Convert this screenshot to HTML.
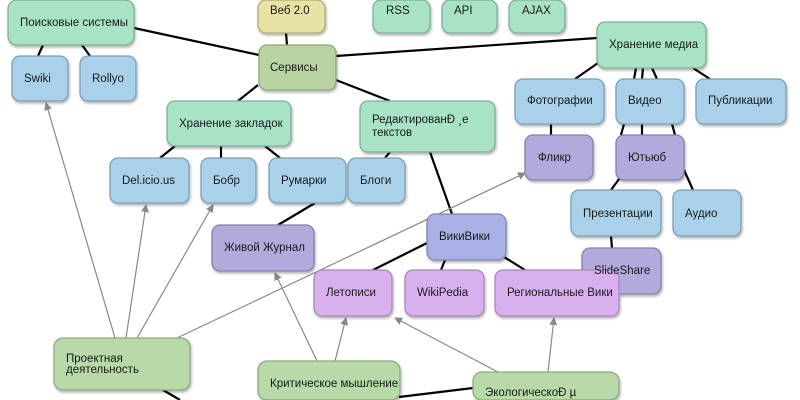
<!DOCTYPE html>
<html><head><meta charset="utf-8"><style>
html,body{margin:0;padding:0;background:#fff;width:800px;height:400px;overflow:hidden}
text{font-family:"Liberation Sans","DejaVu Sans",sans-serif;font-size:11.5px;fill:#1a1a1a}
</style></head><body>
<svg width="800" height="400" viewBox="0 0 800 400" xmlns="http://www.w3.org/2000/svg">
<defs>
<marker id="a" markerWidth="8" markerHeight="8" refX="7" refY="4" orient="auto" markerUnits="userSpaceOnUse"><path d="M0,0 L8,4 L0,8 z" fill="#888"/></marker>
<filter id="s" x="-10%" y="-10%" width="125%" height="135%"><feDropShadow dx="1" dy="2" stdDeviation="1.2" flood-color="#000" flood-opacity="0.3"/></filter>
</defs>
<g stroke="#000" stroke-width="2.2" fill="none">
<line x1="134" y1="28" x2="259" y2="55"/>
<line x1="286" y1="33" x2="287" y2="45"/>
<line x1="336" y1="56" x2="597" y2="38"/>
<line x1="336" y1="80" x2="390" y2="101"/>
<line x1="258" y1="85" x2="238" y2="101"/>
<line x1="43" y1="45" x2="38" y2="56"/>
<line x1="82" y1="45" x2="90" y2="56"/>
<line x1="175" y1="146" x2="160" y2="158"/>
<line x1="221" y1="146" x2="221" y2="158"/>
<line x1="265" y1="146" x2="280" y2="158"/>
<line x1="390" y1="152" x2="385" y2="158"/>
<line x1="430" y1="152" x2="452" y2="214"/>
<line x1="315" y1="203" x2="278" y2="225"/>
<line x1="427" y1="243" x2="373" y2="270"/>
<line x1="445" y1="260" x2="441" y2="270"/>
<line x1="504" y1="257" x2="525" y2="270"/>
<line x1="598" y1="63" x2="575" y2="79"/>
<line x1="636" y1="68" x2="634" y2="79"/>
<line x1="643" y1="68" x2="642" y2="79"/>
<line x1="652" y1="68" x2="657" y2="79"/>
<line x1="693" y1="68" x2="710" y2="79"/>
<line x1="551" y1="124" x2="551" y2="135"/>
<line x1="624" y1="124" x2="621" y2="135"/>
<line x1="642" y1="124" x2="642" y2="135"/>
<line x1="672" y1="124" x2="675" y2="135"/>
<line x1="622" y1="175" x2="611" y2="190"/>
<line x1="684" y1="170" x2="693" y2="190"/>
<line x1="611" y1="236" x2="612" y2="248"/>
<line x1="163" y1="390" x2="180" y2="400"/>
<line x1="399" y1="397" x2="473" y2="388"/>
</g>
<g stroke="#888" stroke-width="1.2" fill="none" marker-end="url(#a)">
<line x1="115" y1="338" x2="46" y2="103"/>
<line x1="126" y1="338" x2="146" y2="205"/>
<line x1="137" y1="338" x2="213" y2="205"/>
<line x1="177" y1="338" x2="525" y2="173"/>
<line x1="317" y1="361" x2="275" y2="273"/>
<line x1="335" y1="361" x2="346" y2="318"/>
<line x1="498" y1="372" x2="395" y2="318"/>
<line x1="548" y1="372" x2="554" y2="318"/>
</g>
<g filter="url(#s)" stroke-width="1.3">
<rect x="8" y="0" width="126" height="45" rx="9" fill="#a9e3c6" stroke="#7fae98"/>
<rect x="258" y="0" width="67" height="33" rx="8" fill="#e8e2a4" stroke="#b0ab7a"/>
<rect x="373" y="0" width="57" height="33" rx="8" fill="#a9e3c6" stroke="#7fae98"/>
<rect x="442" y="0" width="55" height="33" rx="8" fill="#a9e3c6" stroke="#7fae98"/>
<rect x="509" y="0" width="56" height="33" rx="8" fill="#a9e3c6" stroke="#7fae98"/>
<rect x="259" y="45" width="77" height="45" rx="8" fill="#b8d4a2" stroke="#8ea67c"/>
<rect x="12" y="56" width="56" height="45" rx="8" fill="#a9d1ea" stroke="#7d9fb4"/>
<rect x="80" y="56" width="56" height="45" rx="8" fill="#a9d1ea" stroke="#7d9fb4"/>
<rect x="167" y="101" width="124" height="45" rx="8" fill="#a9e3c6" stroke="#7fae98"/>
<rect x="360" y="101" width="135" height="51" rx="8" fill="#a9e3c6" stroke="#7fae98"/>
<rect x="597" y="22" width="109" height="46" rx="8" fill="#a9e3c6" stroke="#7fae98"/>
<rect x="515" y="79" width="89" height="45" rx="8" fill="#a9d1ea" stroke="#7d9fb4"/>
<rect x="616" y="79" width="68" height="45" rx="8" fill="#a9d1ea" stroke="#7d9fb4"/>
<rect x="696" y="79" width="90" height="45" rx="8" fill="#a9d1ea" stroke="#7d9fb4"/>
<rect x="525" y="135" width="68" height="45" rx="8" fill="#b2aadc" stroke="#8680a8"/>
<rect x="616" y="135" width="68" height="45" rx="8" fill="#b2aadc" stroke="#8680a8"/>
<rect x="110" y="158" width="79" height="45" rx="8" fill="#a9d1ea" stroke="#7d9fb4"/>
<rect x="201" y="158" width="55" height="45" rx="8" fill="#a9d1ea" stroke="#7d9fb4"/>
<rect x="269" y="158" width="77" height="45" rx="8" fill="#a9d1ea" stroke="#7d9fb4"/>
<rect x="348" y="158" width="57" height="45" rx="8" fill="#a9d1ea" stroke="#7d9fb4"/>
<rect x="571" y="190" width="90" height="46" rx="8" fill="#a9d1ea" stroke="#7d9fb4"/>
<rect x="673" y="190" width="68" height="46" rx="8" fill="#a9d1ea" stroke="#7d9fb4"/>
<rect x="212" y="225" width="102" height="46" rx="8" fill="#b2aadc" stroke="#8680a8"/>
<rect x="427" y="214" width="79" height="46" rx="8" fill="#a8b0e6" stroke="#7f86b0"/>
<rect x="582" y="248" width="79" height="46" rx="8" fill="#b2aadc" stroke="#8680a8"/>
<rect x="314" y="270" width="78" height="46" rx="8" fill="#d8b0ee" stroke="#a688b6"/>
<rect x="405" y="270" width="79" height="46" rx="8" fill="#d8b0ee" stroke="#a688b6"/>
<rect x="495" y="270" width="124" height="46" rx="8" fill="#d8b0ee" stroke="#a688b6"/>
<rect x="54" y="338" width="136" height="52" rx="9" fill="#b8d9a8" stroke="#8fa983"/>
<rect x="258" y="361" width="142" height="39" rx="9" fill="#b8d9a8" stroke="#8fa983"/>
<rect x="473" y="372" width="146" height="28" rx="9" fill="#b8d9a8" stroke="#8fa983"/>
</g>
<g>
<text x="20" y="26">Поисковые системы</text>
<text x="270" y="14">Веб 2.0</text>
<text x="386" y="14">RSS</text>
<text x="454" y="14">API</text>
<text x="522" y="14">AJAX</text>
<text x="270" y="71">Сервисы</text>
<text x="24" y="82">Swiki</text>
<text x="92" y="82">Rollyo</text>
<text x="179" y="127">Хранение закладок</text>
<text x="372" y="123">РедактированÐ ¸е</text>
<text x="372" y="136">текстов</text>
<text x="609" y="48">Хранение медиа</text>
<text x="527" y="104">Фотографии</text>
<text x="628" y="104">Видео</text>
<text x="708" y="104">Публикации</text>
<text x="538" y="161">Фликр</text>
<text x="628" y="161">Ютьюб</text>
<text x="122" y="184">Del.icio.us</text>
<text x="213" y="184">Бобр</text>
<text x="281" y="184">Румарки</text>
<text x="360" y="184">Блоги</text>
<text x="583" y="217">Презентации</text>
<text x="685" y="217">Аудио</text>
<text x="224" y="251">Живой Журнал</text>
<text x="439" y="240">ВикиВики</text>
<text x="594" y="274">SlideShare</text>
<text x="326" y="296">Летописи</text>
<text x="417" y="296">WikiPedia</text>
<text x="507" y="296">Региональные Вики</text>
<text x="66" y="362">Проектная</text>
<text x="66" y="373">деятельность</text>
<text x="270" y="387">Критическое мышление</text>
<text x="485" y="396">ЭкологическоÐ µ</text>
</g>
</svg>
</body></html>
